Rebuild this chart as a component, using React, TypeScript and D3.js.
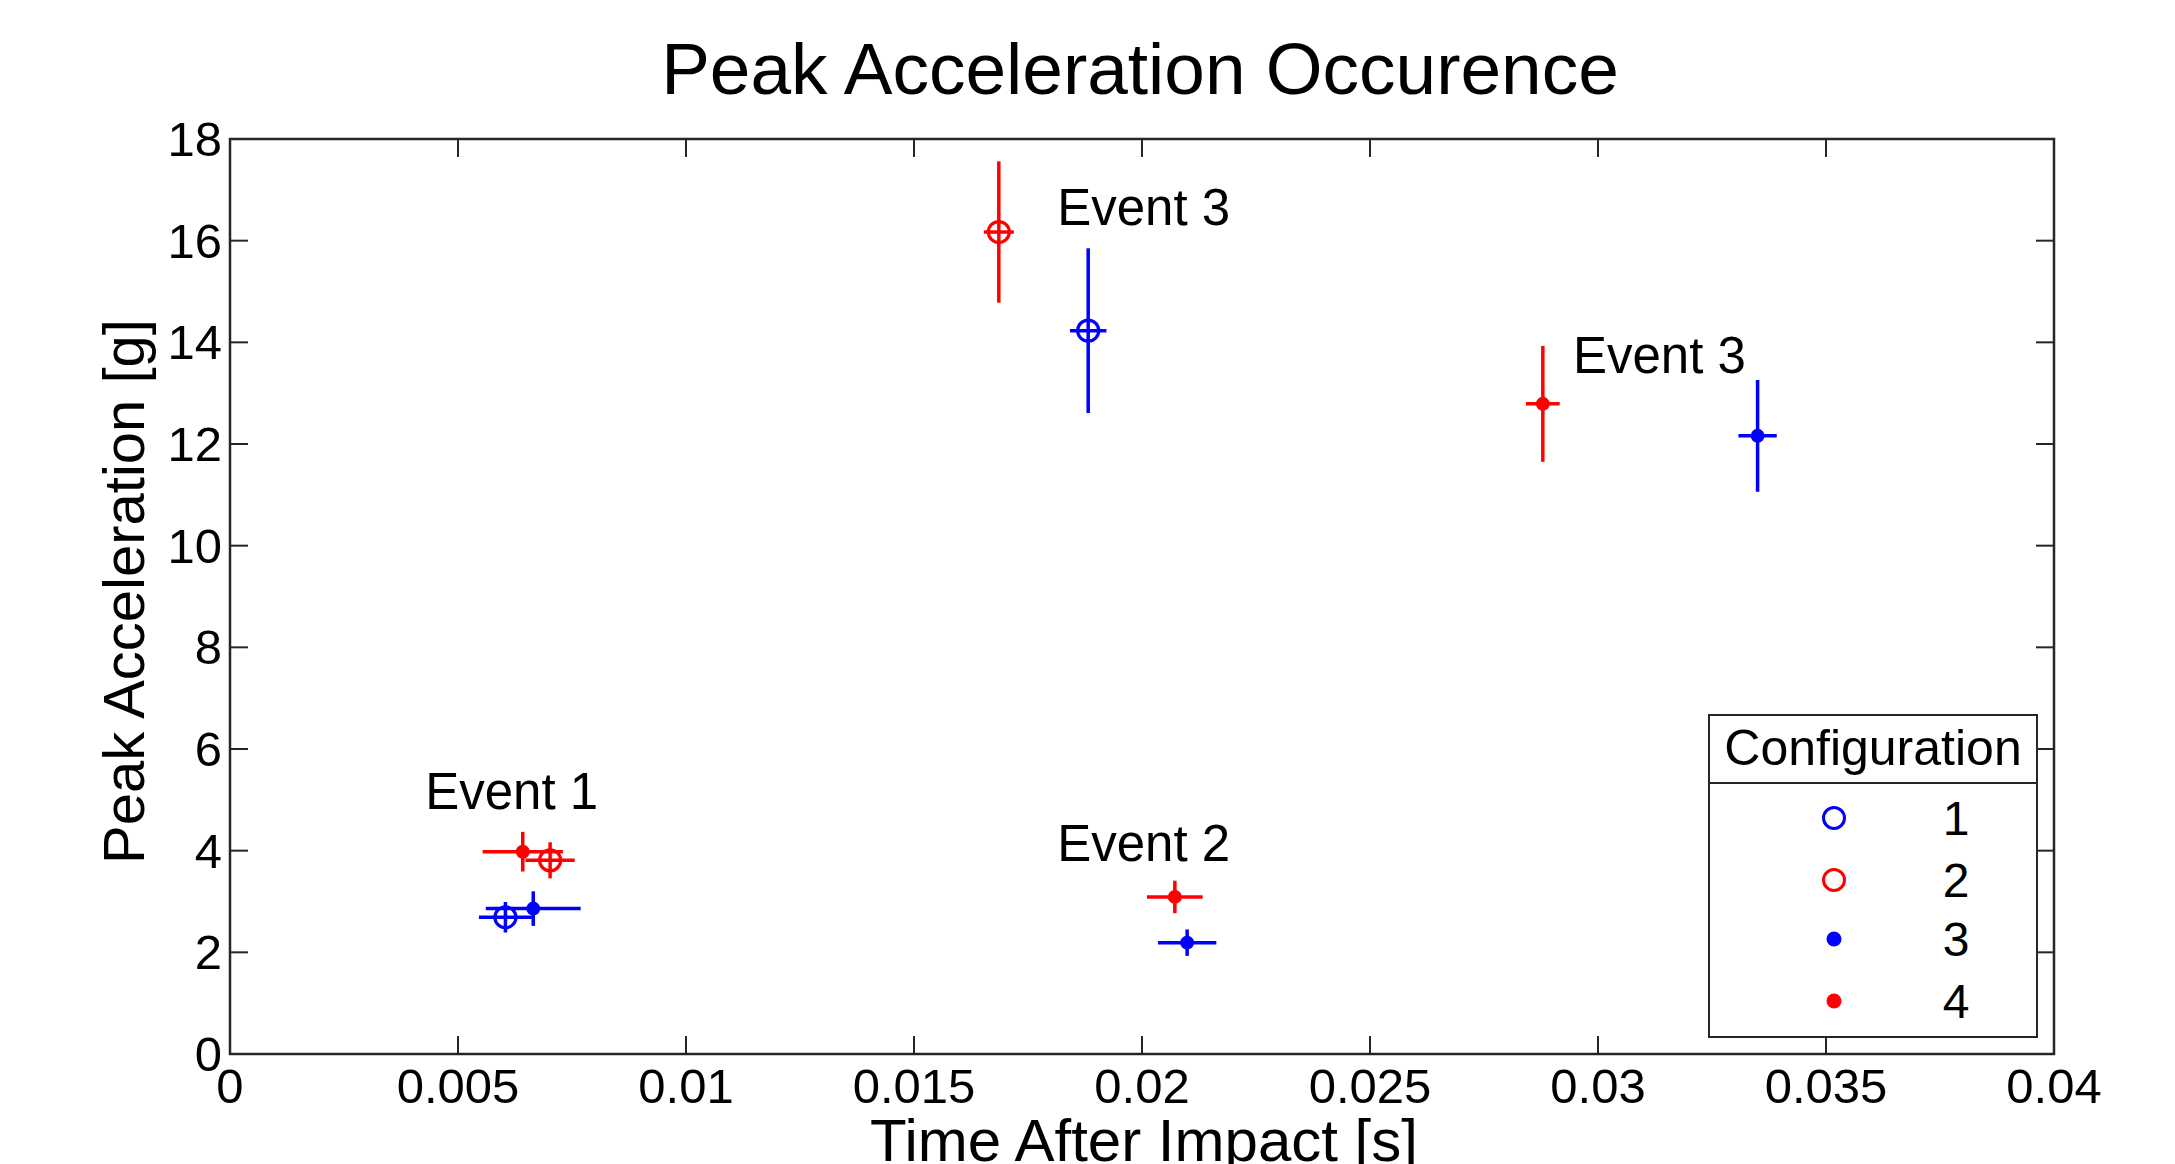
import React from "react";
import * as d3 from "d3";

const xTicks = [0, 0.005, 0.01, 0.015, 0.02, 0.025, 0.03, 0.035, 0.04];
const xTickLabels = ["0", "0.005", "0.01", "0.015", "0.02", "0.025", "0.03", "0.035", "0.04"];
const yTicks = [0, 2, 4, 6, 8, 10, 12, 14, 16, 18];

const configNames = ["1", "2", "3", "4"];
const configColors = ["#0000ff", "#ff0000", "#0000ff", "#ff0000"];
const configFilled = [false, false, true, true];

const cfg1X = [0.00604, 0.01882];
const cfg1Y = [2.69, 14.23];
const cfg1XErr = [0.00058, 0.0004];
const cfg1YErr = [0.3, 1.62];

const cfg2X = [0.00702, 0.01686];
const cfg2Y = [3.81, 16.17];
const cfg2XErr = [0.00054, 0.00033];
const cfg2YErr = [0.355, 1.39];

const cfg3X = [0.00665, 0.02099, 0.0335];
const cfg3Y = [2.86, 2.19, 12.16];
const cfg3XErr = [0.00104, 0.00064, 0.00042];
const cfg3YErr = [0.34, 0.26, 1.1];

const cfg4X = [0.00642, 0.02072, 0.02879];
const cfg4Y = [3.98, 3.09, 12.79];
const cfg4XErr = [0.00088, 0.00061, 0.00037];
const cfg4YErr = [0.39, 0.32, 1.14];

const annoText = ["Event 1", "Event 2", "Event 3", "Event 3"];
const annoX = [0.00428, 0.01814, 0.01814, 0.02945];
const annoY = [4.82, 3.79, 16.3, 13.39];

const W = 2175;
const H = 1164;
const M = { left: 230, right: 2054, top: 139, bottom: 1054 };
const FONT = "'Liberation Sans', Arial, Helvetica, sans-serif";
const AX = "#262626";

export default function App() {
  const x = d3.scaleLinear().domain([0, 0.04]).range([M.left, M.right]);
  const y = d3.scaleLinear().domain([0, 18]).range([M.bottom, M.top]);

  const configs = [
    { xs: cfg1X, ys: cfg1Y, xe: cfg1XErr, ye: cfg1YErr },
    { xs: cfg2X, ys: cfg2Y, xe: cfg2XErr, ye: cfg2YErr },
    { xs: cfg3X, ys: cfg3Y, xe: cfg3XErr, ye: cfg3YErr },
    { xs: cfg4X, ys: cfg4Y, xe: cfg4XErr, ye: cfg4YErr },
  ];
  const tickLen = 18;

  const legend = { x0: 1709, x1: 2037, y0: 715, y1: 1037, sep: 783 };
  const legendRowY = [818, 880, 939, 1001];

  return (
    <div style={{ position: "absolute", left: 0, top: 0 }}>
      <svg width={W} height={H} style={{ display: "block", background: "#fff" }} fontFamily={FONT}>
        <rect x={0} y={0} width={W} height={H} fill="#fff" />
        <text x={1140} y={94} textAnchor="middle" fontSize={73} fill="#000">
          Peak Acceleration Occurence
        </text>

        {/* ticks */}
        {xTicks.slice(1, -1).map((t, i) => (
          <g key={"xt" + i} stroke={AX} strokeWidth={2}>
            <line x1={x(t)} x2={x(t)} y1={M.bottom} y2={M.bottom - tickLen} />
            <line x1={x(t)} x2={x(t)} y1={M.top} y2={M.top + tickLen} />
          </g>
        ))}
        {yTicks.slice(1, -1).map((t, i) => (
          <g key={"yt" + i} stroke={AX} strokeWidth={2}>
            <line x1={M.left} x2={M.left + tickLen} y1={y(t)} y2={y(t)} />
            <line x1={M.right} x2={M.right - tickLen} y1={y(t)} y2={y(t)} />
          </g>
        ))}
        <rect x={M.left} y={M.top} width={M.right - M.left} height={M.bottom - M.top} fill="none" stroke={AX} strokeWidth={2.5} />

        {xTicks.map((t, i) => (
          <text key={"xl" + i} x={x(t)} y={1103} textAnchor="middle" fontSize={49} fill="#000">
            {xTickLabels[i]}
          </text>
        ))}
        {yTicks.map((t, i) => (
          <text key={"yl" + i} x={M.left - 8} y={y(t) + 17} textAnchor="end" fontSize={49} fill="#000">
            {t}
          </text>
        ))}

        <text x={(M.left + M.right) / 2 + 2} y={1161} textAnchor="middle" fontSize={60} fill="#000">
          Time After Impact [s]
        </text>
        <text transform={`translate(144, ${(M.top + M.bottom) / 2 - 5}) rotate(-90)`} textAnchor="middle" fontSize={58} fill="#000">
          Peak Acceleration [g]
        </text>

        {/* data */}
        {configs.map((c, ci) => (
          <g key={"c" + ci}>
            {c.xs.map((xv, i) => {
              const col = configColors[ci];
              const cx = x(xv);
              const cy = y(c.ys[i]);
              return (
                <g key={i}>
                  <line x1={x(xv - c.xe[i])} x2={x(xv + c.xe[i])} y1={cy} y2={cy} stroke={col} strokeWidth={3.5} />
                  <line x1={cx} x2={cx} y1={y(c.ys[i] - c.ye[i])} y2={y(c.ys[i] + c.ye[i])} stroke={col} strokeWidth={3.5} />
                  {configFilled[ci] ? (
                    <circle cx={cx} cy={cy} r={7} fill={col} />
                  ) : (
                    <circle cx={cx} cy={cy} r={10.5} fill="none" stroke={col} strokeWidth={3.2} />
                  )}
                </g>
              );
            })}
          </g>
        ))}

        {annoText.map((t, i) => (
          <text key={"a" + i} x={x(annoX[i])} y={y(annoY[i])} fontSize={51} fill="#000">
            {t}
          </text>
        ))}

        {/* legend */}
        <rect x={legend.x0} y={legend.y0} width={legend.x1 - legend.x0} height={legend.y1 - legend.y0} fill="#fff" stroke={AX} strokeWidth={2} />
        <line x1={legend.x0} x2={legend.x1} y1={legend.sep} y2={legend.sep} stroke={AX} strokeWidth={2} />
        <text x={(legend.x0 + legend.x1) / 2} y={765} textAnchor="middle" fontSize={50} fill="#000">
          Configuration
        </text>
        {configNames.map((n, i) => (
          <g key={"lg" + i}>
            {configFilled[i] ? (
              <circle cx={1834} cy={legendRowY[i]} r={7.5} fill={configColors[i]} />
            ) : (
              <circle cx={1834} cy={legendRowY[i]} r={10.5} fill="none" stroke={configColors[i]} strokeWidth={3} />
            )}
            <text x={1956} y={legendRowY[i] + 17} textAnchor="middle" fontSize={48} fill="#000">
              {n}
            </text>
          </g>
        ))}
      </svg>
    </div>
  );
}
